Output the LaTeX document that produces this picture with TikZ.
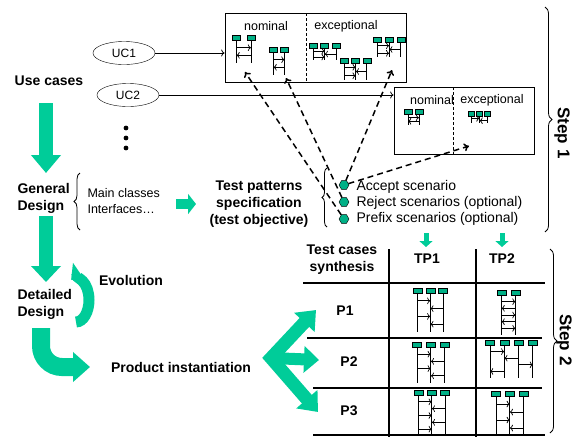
\documentclass[tikz,border=0pt]{standalone}
\usepackage{fontspec}
\setmainfont{Liberation Sans}
\usetikzlibrary{shapes.geometric, positioning}
\usetikzlibrary{arrows.meta, decorations.pathreplacing}
\definecolor{vert}{RGB}{0,204,153}
\definecolor{vertfonce}{RGB}{0,176,134}

% petit diagramme de sequence : x, y, nb de lignes, pas, longueur, nb de messages, largeur des tetes
\newcommand{\seqd}[7]{%
  \foreach \k in {1,...,#3}{%
    \pgfmathsetmacro\lx{#1+(\k-1)*#4}%
    \draw[line width=1pt] (\lx,#2+4) -- (\lx,#2+#5);
    \draw[fill=vertfonce, line width=0.6pt] (\lx-#7/2,#2) rectangle (\lx+#7/2,#2+5);
  }%
  \foreach \m in {1,...,#6}{%
    \pgfmathsetmacro\my{#2+5+\m*(#5-5)/(#6+1)}%
    \pgfmathsetmacro\mx{#1+mod(\m-1,#3-1)*#4}%
    \ifodd\m
      \draw[->, line width=0.7pt] (\mx,\my) -- (\mx+#4,\my);
    \else
      \draw[<-, line width=0.7pt] (\mx,\my) -- (\mx+#4,\my);
    \fi
  }%
}

\begin{document}
\begin{tikzpicture}[x=1pt, y=-1pt,
        gras/.style={font=\fontsize{14}{17}\selectfont\bfseries, align=center},
        etape/.style={font=\fontsize{17}{20}\selectfont\bfseries, rotate=-90, inner sep=0pt},
        texte/.style={font=\fontsize{14}{17}\selectfont},
        petit/.style={font=\fontsize{12.5}{16}\selectfont},
        grosse/.style={draw=vert, line width=14pt},
        tirets/.style={line width=1.5pt, dash pattern=on 6pt off 4pt, -{To[length=5pt,width=8pt]}},
        hexa/.style={regular polygon, regular polygon sides=6, draw, thin, fill=vertfonce, inner sep=0pt, minimum size=10pt},
        cas/.style={ellipse, draw, thin, minimum width=62pt, minimum height=23pt, font=\fontsize{12}{14}\selectfont},
        accol/.style={decorate, decoration={brace, amplitude=#1}, thick}]
        \useasboundingbox (0,0) rectangle (572,437);

        % Colonne de gauche
        \node[gras] (uc) at (49,81) {Use cases};
        \node[gras, align=left, anchor=west] (gd) at (14,198) {General\\Design};
        \node[gras, align=left, anchor=west] (dd) at (14,304) {Detailed\\Design};
        \node[gras] (evo) at (131,280) {Evolution};
        \node[gras] (pi) at (181,367) {Product instantiation};

        % Grandes fleches vertes
        \coordinate (f1) at (46,103);
        \coordinate (f2) at (46,173);
        \coordinate (f3) at (46,216);
        \coordinate (f4) at (46,282);
        \draw[grosse, -{Triangle[length=18pt,width=29pt]}] (f1) -- (f2);
        \draw[grosse, -{Triangle[length=16pt,width=29pt]}] (f3) -- (f4);
        \draw[draw=vert, line width=11pt, -{Triangle[length=11pt,width=25pt]}]
            (76,322) arc[start angle=90, end angle=-112, x radius=13, y radius=22];
        \draw[draw=vert, line width=18pt, -{Triangle[length=17pt,width=29pt]}]
            (41,328) -- (41,346) arc[start angle=180, end angle=90, radius=21] -- (90,367);

        % Cas d'utilisation
        \node[cas] (uc1) at (124,53) {UC1};
        \node[cas] (uc2) at (128,95) {UC2};
        \foreach \y in {128,138,148}
            \fill (126,\y) circle (2.4pt);

        % Cadres des scenarios
        \node[draw, line width=1pt, minimum width=181pt, minimum height=69pt] (boxA) at (315.5,47.5) {};
        \node[draw, line width=1pt, minimum width=140pt, minimum height=67pt] (boxB) at (464,120.5) {};
        \draw[thin, dash pattern=on 3pt off 2pt] (306,13) -- (306,82);
        \draw[thin, dash pattern=on 3pt off 2pt] (453,87) -- (453,154);
        \node[petit] at (266,26) {nominal};
        \node[petit] at (346,26) {exceptional};
        \node[petit] at (432,100) {nominal};
        \node[petit] at (492,100) {exceptional};
        \draw[->, thick] (uc1) -- (uc1 -| boxA.west);
        \draw[->, thick] (uc2) -- (uc2 -| boxB.west);

        % Diagrammes de sequence
        \seqd{236.5}{35}{2}{14.5}{28}{2}{8}
        \seqd{273.5}{47}{2}{11}{28}{2}{8}
        \seqd{313}{43}{3}{11.7}{17}{3}{8}
        \seqd{344.5}{58}{3}{11.2}{22}{3}{8}
        \seqd{377.5}{37}{3}{11.7}{20}{3}{8}
        \seqd{408}{109}{2}{11}{16}{2}{8}
        \seqd{471.5}{111}{3}{8}{12}{2}{6}

        % Specification des patrons de test
        \node[petit, align=left, anchor=west] (mc) at (84,201) {Main classes\\Interfaces\ldots};
        \draw[accol=6pt] (80,230) -- (80,173);
        \draw[draw=vert, line width=10pt, -{Triangle[length=8pt,width=20pt]}] (mc.east) ++(13,3) -- (196,204);
        \node[gras] (tp) at (259,204) {Test patterns\\specification\\(test objective)};
        \draw[accol=5pt] (327,227) -- (327,168);
        \node[hexa] (acc) at (344,185) {};
        \node[hexa] (rej) at (344,202) {};
        \node[hexa] (pre) at (344,219) {};
        \node[texte, anchor=west] at (353,187) {Accept scenario};
        \node[texte, anchor=west] at (353,203) {Reject scenarios (optional)};
        \node[texte, anchor=west] at (353,219) {Prefix scenarios (optional)};

        % Fleches en pointilles vers les scenarios
        \coordinate (cA1) at (245,72);
        \coordinate (cA2) at (286,78);
        \coordinate (cA3) at (392,70);
        \coordinate (cB) at (469,146);
        \draw[tirets] (pre) -- (cA1);
        \draw[tirets] (rej) -- (cA2);
        \draw[tirets] (acc) -- (cA3);
        \draw[tirets] (acc) -- (cB);

        % Etape 1
        \draw[accol=7pt] (545,7) -- (545,232);
        \node[etape] at (562,133) {Step 1};

        % Tableau de synthese
        \draw[draw=vert, line width=5pt, -{Triangle[length=6pt,width=13pt]}] (426,233) -- (426,247);
        \draw[draw=vert, line width=5pt, -{Triangle[length=6pt,width=13pt]}] (502,233) -- (502,247);
        \node[gras] (tcs) at (342,260) {Test cases\\synthesis};
        \node[gras] (tp1) at (427,259) {TP1};
        \node[gras] (tp2) at (502,259) {TP2};
        \node[gras] (p1) at (345,311) {P1};
        \node[gras] (p2) at (349,362) {P2};
        \node[gras] (p3) at (349,411) {P3};
        \draw[line width=1.2pt] (389,249) -- (389,437);
        \draw[line width=1.2pt] (476,249) -- (476,437);
        \draw[line width=1.2pt] (303,283) -- (545,283);
        \draw[line width=1.2pt] (307,338) -- (542,338);
        \draw[line width=1.2pt] (313,388) -- (542,388);
        \draw[line width=1.2pt] (313,435) -- (545,435);
        \seqd{417.5}{288}{3}{12.8}{44}{4}{9}
        \seqd{501.5}{290}{2}{14}{45}{5}{9}
        \seqd{417}{342}{3}{13.8}{41}{4}{9}
        \seqd{490}{340}{4}{14.3}{38}{4}{9}
        \seqd{418.5}{390}{3}{13.3}{46}{5}{9}
        \seqd{496}{391}{3}{13.8}{45}{4}{9}

        % Fourche vers les produits
        \coordinate (fork) at (271,358);
        \coordinate (fh) at (316,310);
        \coordinate (fm) at (319,360);
        \coordinate (fb) at (318,412);
        \draw[draw=vert, line width=13pt, line join=miter,
            {Triangle[length=17pt,width=27pt]}-{Triangle[length=17pt,width=27pt]}] (fh) -- (fork) -- (fb);
        \draw[draw=vert, line width=12pt, -{Triangle[length=15pt,width=26pt]}] (fork) -- (fm);

        % Etape 2
        \draw[accol=7pt] (550,249) -- (550,433);
        \node[etape] at (564,340) {Step 2};
\end{tikzpicture}
\end{document}
